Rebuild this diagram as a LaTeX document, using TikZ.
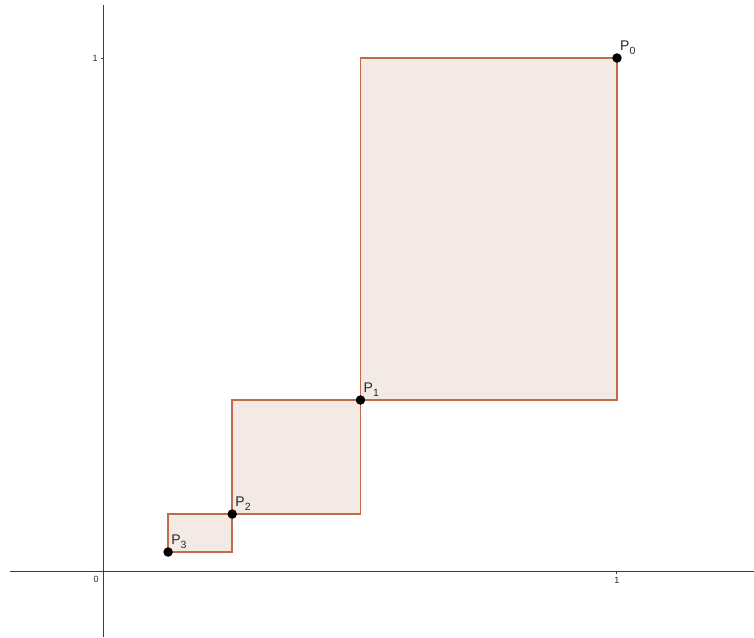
\documentclass[tikz,border=0pt]{standalone}
\usepackage{fontspec}
\setmainfont{Liberation Sans}
\definecolor{edgec}{RGB}{192,108,72}
\definecolor{fillc}{RGB}{244,234,229}
\definecolor{axisc}{RGB}{60,60,60}
\definecolor{labc}{RGB}{40,40,40}
\newcommand{\plabel}[1]{P\raisebox{-4.5pt}{\fontsize{10.5}{12}\selectfont #1}}
\begin{document}
\begin{tikzpicture}[x=513pt,y=513pt,
  rectbox/.style={draw=edgec,fill=fillc,line width=1.6pt},
  axisline/.style={draw=axisc,line width=1pt},
  pt/.style={circle,fill=black,inner sep=0pt,minimum size=9.5pt},
  plab/.style={text=labc,font=\fontsize{14}{16}\selectfont,inner sep=0pt,anchor=base west},
  ticklab/.style={text=labc,font=\fontsize{9}{10}\selectfont,inner sep=0pt}]
\useasboundingbox (-0.2027,-0.1287) rectangle (1.2671,1.1131);
% axes
\coordinate (xl) at (-0.1832,0);
\coordinate (xr) at (1.2671,0);
\coordinate (yb) at (0,-0.1287);
\coordinate (yt) at (0,1.1033);
\draw[axisline] (xl) -- (xr);
\draw[axisline] (yb) -- (yt);
\draw[axisline] (1,0) -- ++(0,-3pt);
\draw[axisline] (0,1) -- ++(-3pt,0);
\node[ticklab] (t0) at (-0.0155,-0.0165) {0};
\node[ticklab] (tx1) at (1,-0.018) {1};
\node[ticklab] (ty1) at (-0.0175,1) {1};
% rectangles
\draw[rectbox] (1/2,1/3) rectangle (1,1);
\draw[rectbox] (1/4,1/9) rectangle (1/2,1/3);
\draw[rectbox] (1/8,1/27) rectangle (1/4,1/9);
% points
\node[pt] (P0) at (1,1) {};
\node[pt] (P1) at (1/2,1/3) {};
\node[pt] (P2) at (1/4,1/9) {};
\node[pt] (P3) at (1/8,1/27) {};
\node[plab] (L0) at ([xshift=3pt,yshift=8pt]P0.center) {\plabel{0}};
\node[plab] (L1) at ([xshift=3pt,yshift=8pt]P1.center) {\plabel{1}};
\node[plab] (L2) at ([xshift=3pt,yshift=8pt]P2.center) {\plabel{2}};
\node[plab] (L3) at ([xshift=3pt,yshift=8pt]P3.center) {\plabel{3}};
\end{tikzpicture}
\end{document}
